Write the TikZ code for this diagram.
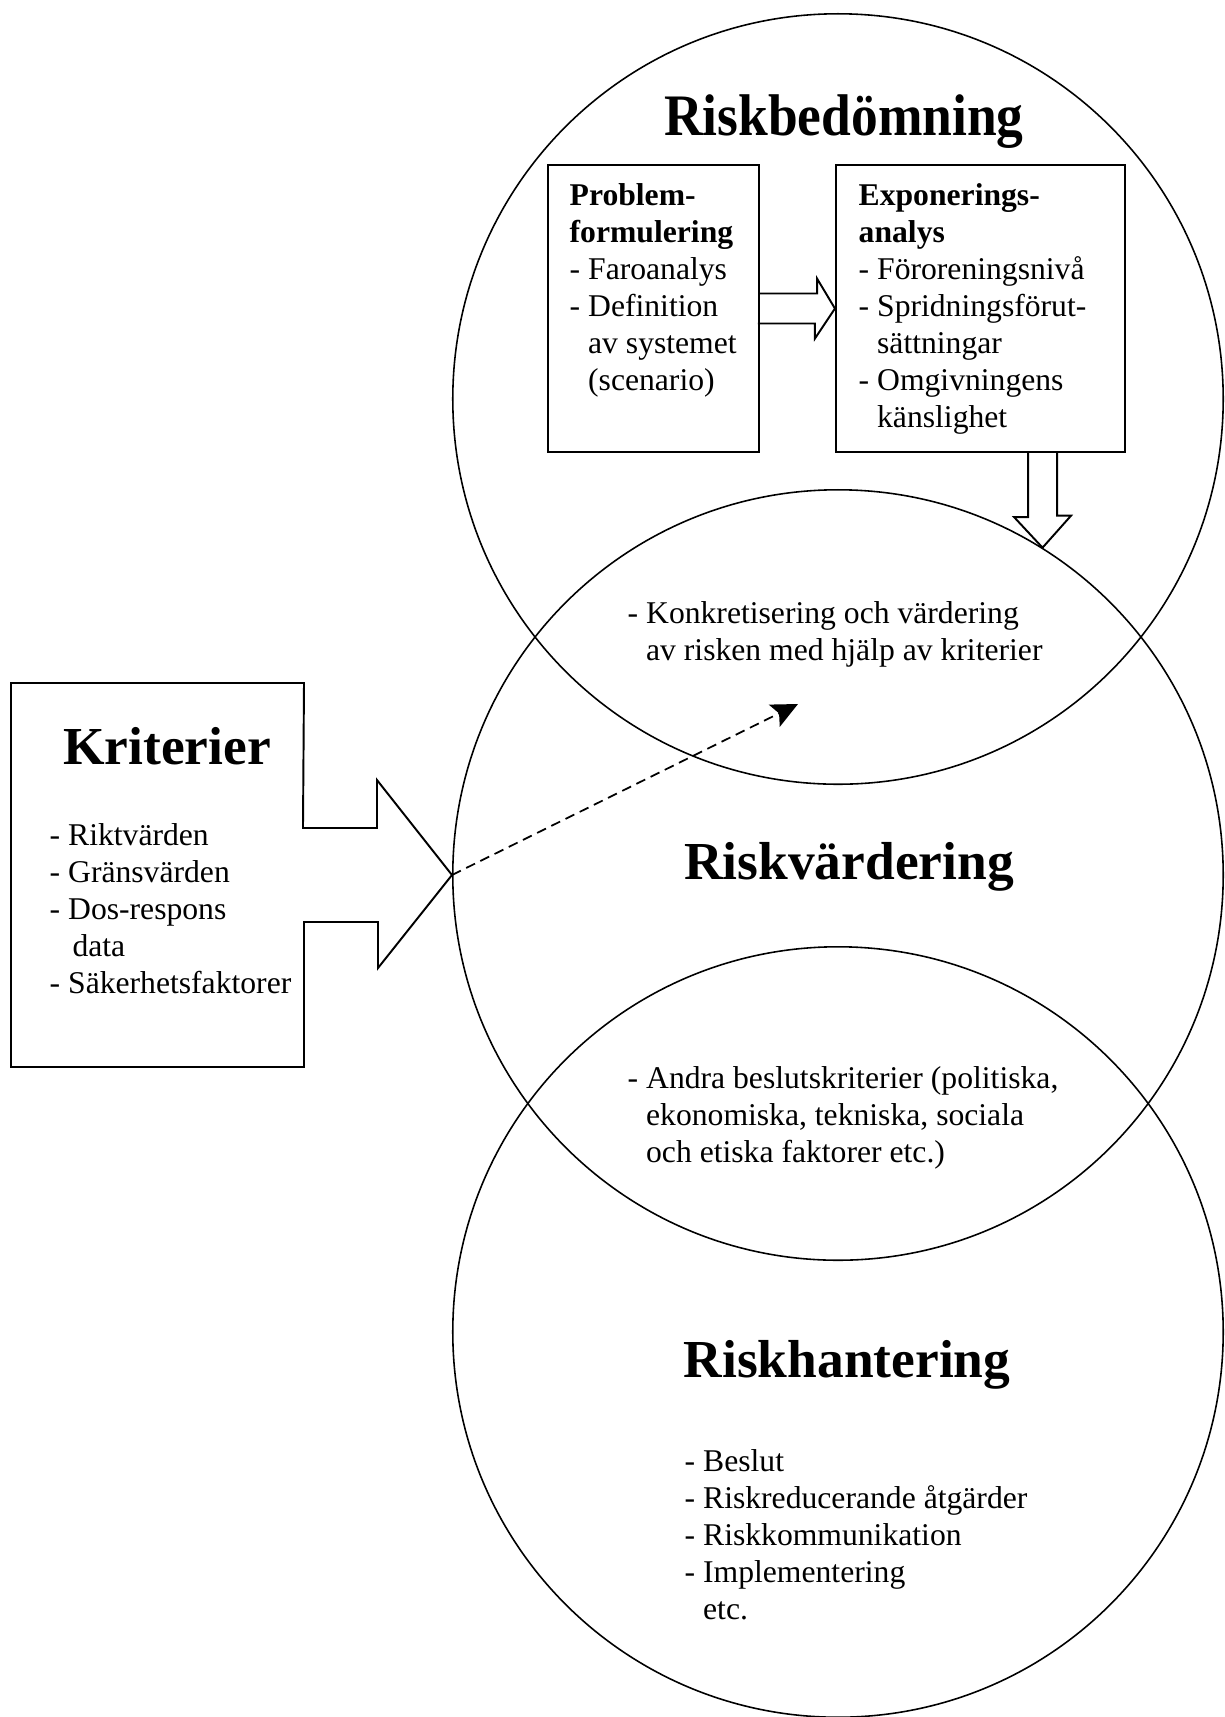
\documentclass[tikz,border=0pt]{standalone}
\usepackage{graphicx, fontspec}
\setmainfont{Liberation Serif}
\usetikzlibrary{arrows.meta}

\begin{document}
\begin{tikzpicture}[x=0.01cm, y=-0.01cm,
    ring/.style={draw, circle, line width=0.45pt, minimum size=7.7cm, inner sep=0pt},
    ruta/.style={draw, rectangle, line width=0.55pt, minimum height=2.87cm, inner sep=0pt},
    rubrik/.style={anchor=base, inner sep=0pt, font=\fontsize{15.2}{18}\selectfont\bfseries},
    lista/.style={anchor=north west, inner sep=0pt, align=left, font=\fontsize{9}{10.5}\selectfont},
    blockpil/.style={draw, line width=0.55pt},
    streckpil/.style={line width=0.5pt, dash pattern=on 2.8pt off 1.7pt, -{Stealth[length=7.5pt, width=7pt, inset=1.5pt]}}]
            \useasboundingbox (0,0) rectangle (1225,1717);

            \node[ring] (bedomning) at (838,399) {};
            \node[ring] (vardering) at (838,875) {};
            \node[ring] (hantering) at (838,1332) {};

            \node[rubrik] (bedomningtitel) at (844,135) {\scalebox{1}[1.1]{Riskbedömning}};
            \node[rubrik] (varderingtitel) at (849,879) {Riskvärdering};
            \node[rubrik] (hanteringtitel) at (847,1377) {Riskhantering};
            \node[rubrik] (kriteriertitel) at (167,764) {Kriterier};

            \node[ruta, minimum width=2.11cm] (problem) at (653.5,308.5) {};
            \node[ruta, minimum width=2.89cm] (exponering) at (980.5,308.5) {};

            \node[lista] (problemtext) at (569,179) {\strut\textbf{Problem-}\\ \textbf{formulering}\\ - Faroanalys\\ - Definition\\ \phantom{- }av systemet\\ \phantom{- }(scenario)};
            \node[lista] (exponeringtext) at (858,179) {\strut\textbf{Exponerings-}\\ \textbf{analys}\\ - Föroreningsnivå\\ - Spridningsförut-\\ \phantom{- }sättningar\\ - Omgivningens\\ \phantom{- }känslighet};
            \node[lista] (kriteriertext) at (49,819) {\strut - Riktvärden\\ - Gränsvärden\\ - Dos-respons\\ \hspace*{6.5pt}data\\ - Säkerhetsfaktorer};
            \node[lista] (konkrettext) at (627,597) {\strut - Konkretisering och värdering\\ \phantom{- }av risken med hjälp av kriterier};
            \node[lista] (beslutkrittext) at (627,1062) {\strut - Andra beslutskriterier (politiska,\\ \phantom{- }ekonomiska, tekniska, sociala\\ \phantom{- }och etiska faktorer etc.)};
            \node[lista] (hanteringtext) at (684,1445) {\strut - Beslut\\ - Riskreducerande åtgärder\\ - Riskkommunikation\\ - Implementering\\ \phantom{- }etc.};

            \draw[blockpil] (problem.east) ++(0,-15) -- ++(57,0) -- ++(0,-15) -- (exponering.west)
                -- ++(-20,30) -- ++(0,-15) -- ++(-57,0);
            \coordinate (pilspets) at (vardering.58.7);
            \draw[blockpil] (pilspets |- exponering.south) ++(-14.5,0) -- ++(0,64) -- ++(-14,0) -- (pilspets)
                -- ++(28.5,-32) -- ++(-14,0) -- ++(0,-64);
            \draw[blockpil] (vardering.west) -- ++(-75,-95) |- ++(-74,48) -- (304,683) -- (11,683)
                -- (11,1067) -- (304,1067) -- (304,922) -| ++(74,46) -- cycle;

            \coordinate (streckmal) at (798,704);
            \draw[streckpil] (vardering.west) -- (streckmal);
        \end{tikzpicture}
\end{document}
